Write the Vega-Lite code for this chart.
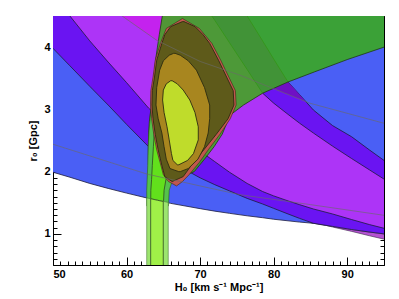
{
  "$schema": "https://vega.github.io/schema/vega-lite/v6.json",
  "width": 331,
  "height": 249,
  "autosize": {"type": "none"},
  "padding": {"left": 53, "top": 16, "right": 15, "bottom": 34},
  "background": "white",
  "config": {
    "view": {"stroke": null},
    "axis": {
      "grid": false,
      "domainColor": "black",
      "domainWidth": 1,
      "tickColor": "black",
      "tickWidth": 1,
      "labelFont": "Liberation Sans",
      "labelFontWeight": "bold",
      "labelFontSize": 11,
      "labelColor": "black",
      "titleFont": "Liberation Sans",
      "titleFontWeight": "bold",
      "titleFontSize": 11,
      "titleColor": "black"
    }
  },
  "datasets": {
    "blue": [
      {"x": 48, "y": 2.06, "y2": 5.5}, {"x": 50, "y": 1.99, "y2": 5.5}, {"x": 52.3, "y": 1.91, "y2": 5.5},
      {"x": 55, "y": 1.81, "y2": 5.5}, {"x": 57.5, "y": 1.73, "y2": 5.5}, {"x": 60, "y": 1.655, "y2": 5.5},
      {"x": 63, "y": 1.57, "y2": 5.5}, {"x": 66, "y": 1.49, "y2": 5.5}, {"x": 70, "y": 1.405, "y2": 5.5},
      {"x": 72, "y": 1.365, "y2": 5.5}, {"x": 74, "y": 1.33, "y2": 5.5}, {"x": 76.4, "y": 1.29, "y2": 5.5},
      {"x": 78.5, "y": 1.26, "y2": 5.5}, {"x": 80, "y": 1.235, "y2": 5.5}, {"x": 81.95, "y": 1.21, "y2": 5.5},
      {"x": 83.5, "y": 1.19, "y2": 5.5}, {"x": 85.4, "y": 1.17, "y2": 5.5}, {"x": 88, "y": 1.14, "y2": 5.5},
      {"x": 90.6, "y": 1.11, "y2": 5.5}, {"x": 93, "y": 1.09, "y2": 5.5}, {"x": 95, "y": 1.075, "y2": 5.5},
      {"x": 97, "y": 1.06, "y2": 5.5}
    ],
    "pink": [
      {"x": 85, "y": 1.19, "y2": 1.18}, {"x": 86.3, "y": 1.16, "y2": 1.15}, {"x": 88, "y": 1.11, "y2": 1.12},
      {"x": 90.6, "y": 1.04, "y2": 1.07}, {"x": 93, "y": 0.97, "y2": 1.03}, {"x": 95, "y": 0.915, "y2": 1.0},
      {"x": 97, "y": 0.86, "y2": 0.98}
    ],
    "indigo": [
      {"x": 48, "y": 4.22, "y2": 5.5}, {"x": 50, "y": 3.98, "y2": 5.5}, {"x": 52.3, "y": 3.7, "y2": 5.5},
      {"x": 55, "y": 3.37, "y2": 5.5}, {"x": 57.5, "y": 3.07, "y2": 5.5}, {"x": 60, "y": 2.76, "y2": 5.5},
      {"x": 63, "y": 2.4, "y2": 5.5}, {"x": 66, "y": 2.16, "y2": 5.5}, {"x": 70, "y": 1.9, "y2": 5.5},
      {"x": 72, "y": 1.79, "y2": 5.5}, {"x": 74, "y": 1.69, "y2": 4.95}, {"x": 76.4, "y": 1.57, "y2": 4.5},
      {"x": 78.5, "y": 1.48, "y2": 4.1}, {"x": 80, "y": 1.41, "y2": 3.81}, {"x": 81.95, "y": 1.32, "y2": 3.44},
      {"x": 83.5, "y": 1.25, "y2": 3.24}, {"x": 85.4, "y": 1.17, "y2": 2.99}, {"x": 88, "y": 1.12, "y2": 2.74},
      {"x": 90.6, "y": 1.07, "y2": 2.56}, {"x": 93, "y": 1.03, "y2": 2.35}, {"x": 95, "y": 1.0, "y2": 2.18},
      {"x": 97, "y": 0.98, "y2": 2.03}
    ],
    "magenta": [
      {"x": 50, "y": 4.85, "y2": 5.5}, {"x": 52.3, "y": 4.5, "y2": 5.5}, {"x": 55, "y": 4.1, "y2": 5.5},
      {"x": 57.5, "y": 3.76, "y2": 5.5}, {"x": 60, "y": 3.43, "y2": 5.5}, {"x": 63, "y": 3.02, "y2": 5.5},
      {"x": 66, "y": 2.7, "y2": 5.5}, {"x": 70, "y": 2.33, "y2": 4.77}, {"x": 72, "y": 2.16, "y2": 4.43},
      {"x": 74, "y": 1.99, "y2": 4.07}, {"x": 76.4, "y": 1.81, "y2": 3.64}, {"x": 78.5, "y": 1.68, "y2": 3.26},
      {"x": 80, "y": 1.61, "y2": 3.1}, {"x": 81.95, "y": 1.53, "y2": 2.92}, {"x": 83.5, "y": 1.47, "y2": 2.78},
      {"x": 85.4, "y": 1.4, "y2": 2.62}, {"x": 88, "y": 1.32, "y2": 2.41}, {"x": 90.6, "y": 1.23, "y2": 2.21},
      {"x": 93, "y": 1.15, "y2": 2.03}, {"x": 95, "y": 1.09, "y2": 1.88}, {"x": 97, "y": 1.04, "y2": 1.75}
    ],
    "tintTop": [
      {"x": 58, "y": 4.62, "y2": 4.8}, {"x": 59.4, "y": 4.5, "y2": 4.8}, {"x": 62, "y": 4.28, "y2": 4.8},
      {"x": 64.1, "y": 4.11, "y2": 4.8}, {"x": 66, "y": 4.0, "y2": 4.8}
    ],
    "tintRight": [
      {"x": 80, "y": 3.33, "y2": 3.34}, {"x": 81.95, "y": 3.24, "y2": 3.44}, {"x": 83.5, "y": 3.17, "y2": 3.24},
      {"x": 84.3, "y": 3.13, "y2": 3.13}
    ],
    "green": [
      {"y": 1.85, "x": 66.2, "x2": 66.2}, {"y": 2.0, "x": 63.0, "x2": 69.2}, {"y": 2.2, "x": 62.95, "x2": 70.6},
      {"y": 2.4, "x": 62.95, "x2": 71.9}, {"y": 2.6, "x": 63.0, "x2": 73.0}, {"y": 2.8, "x": 63.1, "x2": 73.7},
      {"y": 2.91, "x": 63.2, "x2": 74.1}, {"y": 3.07, "x": 63.4, "x2": 75.9}, {"y": 3.26, "x": 63.5, "x2": 78.5},
      {"y": 3.44, "x": 63.65, "x2": 81.95}, {"y": 3.6, "x": 63.8, "x2": 85.5}, {"y": 3.8, "x": 63.95, "x2": 90.0},
      {"y": 4.0, "x": 64.2, "x2": 95.0}, {"y": 4.2, "x": 64.45, "x2": 97.5}, {"y": 4.5, "x": 64.86, "x2": 97.5},
      {"y": 4.7, "x": 65.1, "x2": 97.5}
    ],
    "bandOuterUp": [
      {"y": 1.45, "x": 62.74, "x2": 65.7}, {"y": 1.7, "x": 62.74, "x2": 65.8}, {"y": 1.87, "x": 62.8, "x2": 66.27},
      {"y": 2.1, "x": 62.88, "x2": 67.0}, {"y": 2.4, "x": 62.95, "x2": 67.8}, {"y": 2.65, "x": 63.05, "x2": 68.0},
      {"y": 2.9, "x": 63.25, "x2": 63.25}
    ],
    "bandInnerUp": [
      {"y": 1.45, "x": 63.28, "x2": 65.0}, {"y": 1.7, "x": 63.3, "x2": 65.1}, {"y": 1.87, "x": 63.4, "x2": 65.35},
      {"y": 2.1, "x": 63.5, "x2": 65.8}, {"y": 2.4, "x": 63.65, "x2": 66.3}, {"y": 2.7, "x": 63.8, "x2": 66.8},
      {"y": 2.95, "x": 64.0, "x2": 64.0}
    ],
    "bandOuterLow": [
      {"x": 62.74, "y": 0.3, "y2": 1.578}, {"x": 63.5, "y": 0.3, "y2": 1.56}, {"x": 64.5, "y": 0.3, "y2": 1.535},
      {"x": 65.67, "y": 0.3, "y2": 1.505}
    ],
    "bandInnerLow": [
      {"x": 63.28, "y": 0.3, "y2": 1.565}, {"x": 64.2, "y": 0.3, "y2": 1.54}, {"x": 64.99, "y": 0.3, "y2": 1.52}
    ],
    "red": [
      {"y": 1.77, "x": 66.8, "x2": 66.8}, {"y": 1.84, "x": 65.7, "x2": 67.6}, {"y": 1.95, "x": 65.0, "x2": 68.5},
      {"y": 2.15, "x": 64.55, "x2": 69.9}, {"y": 2.35, "x": 64.1, "x2": 71.1}, {"y": 2.6, "x": 63.7, "x2": 72.7},
      {"y": 2.85, "x": 63.4, "x2": 74.1}, {"y": 3.07, "x": 63.25, "x2": 74.9}, {"y": 3.3, "x": 63.3, "x2": 74.8},
      {"y": 3.52, "x": 63.6, "x2": 73.9}, {"y": 3.79, "x": 63.9, "x2": 72.8}, {"y": 4.06, "x": 64.6, "x2": 71.6},
      {"y": 4.3, "x": 65.4, "x2": 69.9}, {"y": 4.46, "x": 67.6, "x2": 67.6}
    ],
    "olive": [
      {"y": 1.84, "x": 66.2, "x2": 66.2}, {"y": 1.92, "x": 65.2, "x2": 67.7}, {"y": 2.1, "x": 64.8, "x2": 68.8},
      {"y": 2.35, "x": 64.3, "x2": 70.5}, {"y": 2.6, "x": 63.9, "x2": 72.2}, {"y": 2.85, "x": 63.6, "x2": 73.8},
      {"y": 3.07, "x": 63.45, "x2": 74.6}, {"y": 3.3, "x": 63.5, "x2": 74.5}, {"y": 3.52, "x": 63.8, "x2": 73.6},
      {"y": 3.79, "x": 64.1, "x2": 72.5}, {"y": 4.06, "x": 64.8, "x2": 71.3}, {"y": 4.2, "x": 65.2, "x2": 70.4},
      {"y": 4.33, "x": 66.0, "x2": 69.3}, {"y": 4.41, "x": 67.6, "x2": 67.8}
    ],
    "gold": [
      {"y": 2.0, "x": 67.1, "x2": 67.3}, {"y": 2.05, "x": 65.9, "x2": 68.4}, {"y": 2.2, "x": 65.4, "x2": 69.7},
      {"y": 2.4, "x": 65.1, "x2": 70.6}, {"y": 2.62, "x": 64.8, "x2": 71.1}, {"y": 2.85, "x": 64.3, "x2": 71.3},
      {"y": 3.07, "x": 64.0, "x2": 71.3}, {"y": 3.35, "x": 64.1, "x2": 70.6}, {"y": 3.63, "x": 64.5, "x2": 69.5},
      {"y": 3.78, "x": 65.0, "x2": 68.4}, {"y": 3.87, "x": 65.8, "x2": 67.3}, {"y": 3.9, "x": 66.4, "x2": 66.6}
    ],
    "yellow": [
      {"y": 2.11, "x": 66.9, "x2": 67.1}, {"y": 2.18, "x": 66.3, "x2": 68.3}, {"y": 2.29, "x": 66.1, "x2": 69.1},
      {"y": 2.51, "x": 65.8, "x2": 69.75}, {"y": 2.72, "x": 65.5, "x2": 69.75}, {"y": 2.95, "x": 65.1, "x2": 69.3},
      {"y": 3.15, "x": 64.9, "x2": 68.6}, {"y": 3.31, "x": 65.0, "x2": 67.7}, {"y": 3.41, "x": 65.4, "x2": 66.9},
      {"y": 3.46, "x": 66.0, "x2": 66.2}
    ],
    "grey": [
      {"line": "upper", "x": 58, "y": 4.62}, {"line": "upper", "x": 59.4, "y": 4.5}, {"line": "upper", "x": 64.1, "y": 4.11},
      {"line": "upper", "x": 70, "y": 3.77}, {"line": "upper", "x": 75.4, "y": 3.55}, {"line": "upper", "x": 84.9, "y": 3.1},
      {"line": "upper", "x": 94.9, "y": 2.78}, {"line": "upper", "x": 97, "y": 2.72},
      {"line": "lower", "x": 48, "y": 2.52}, {"line": "lower", "x": 50, "y": 2.44}, {"line": "lower", "x": 62.8, "y": 1.96},
      {"line": "lower", "x": 70, "y": 1.77}, {"line": "lower", "x": 75.4, "y": 1.63}, {"line": "lower", "x": 85, "y": 1.47},
      {"line": "lower", "x": 94.9, "y": 1.3}, {"line": "lower", "x": 97, "y": 1.27}
    ]
  },
  "encoding": {
    "x": {"field": "x", "type": "quantitative", "scale": {"domain": [50, 95], "nice": false, "zero": false}, "axis": null},
    "y": {"field": "y", "type": "quantitative", "scale": {"domain": [0.5, 4.5], "nice": false, "zero": false}, "axis": null}
  },
  "resolve": {"axis": {"x": "independent", "y": "independent"}},
  "layer": [
    {
      "data": {"name": "blue"},
      "mark": {"type": "area", "clip": true, "fill": "#4a5ff5", "stroke": "#1c1c3c", "strokeWidth": 0.8},
      "encoding": {
        "x": {"field": "x", "type": "quantitative", "scale": {"domain": [50, 95], "nice": false, "zero": false},
          "axis": {"orient": "bottom", "title": "H₀ [km s⁻¹ Mpc⁻¹]", "titlePadding": 2,
            "values": [50,51,52,53,54,55,56,57,58,59,60,61,62,63,64,65,66,67,68,69,70,71,72,73,74,75,76,77,78,79,80,81,82,83,84,85,86,87,88,89,90,91,92,93,94,95],
            "labelExpr": "datum.value % 10 === 0 ? datum.label : ''",
            "tickSize": {"condition": {"test": "datum.value % 10 === 0", "value": -8}, "value": -4},
            "labelPadding": 11}},
        "y": {"field": "y", "type": "quantitative", "scale": {"domain": [0.5, 4.5], "nice": false, "zero": false},
          "axis": {"orient": "left", "title": "r₀ [Gpc]", "titlePadding": 5,
            "values": [0.5,0.6,0.7,0.8,0.9,1,1.1,1.2,1.3,1.4,1.5,1.6,1.7,1.8,1.9,2,2.1,2.2,2.3,2.4,2.5,2.6,2.7,2.8,2.9,3,3.1,3.2,3.3,3.4,3.5,3.6,3.7,3.8,3.9,4,4.1,4.2,4.3,4.4,4.5],
            "labelExpr": "abs(datum.value - round(datum.value)) < 0.001 ? '' + round(datum.value) : ''",
            "tickSize": {"condition": {"test": "abs(datum.value - round(datum.value)) < 0.001", "value": -8}, "value": -4},
            "labelPadding": 11}},
        "y2": {"field": "y2"}
      }
    },
    {
      "data": {"name": "pink"},
      "mark": {"type": "area", "clip": true, "fill": "#b552d2", "stroke": "#3a2a4a", "strokeWidth": 0.6},
      "encoding": {"y2": {"field": "y2"}}
    },
    {
      "data": {"name": "indigo"},
      "mark": {"type": "area", "clip": true, "fill": "#6a14f2", "stroke": "#1c1c3c", "strokeWidth": 0.8},
      "encoding": {"y2": {"field": "y2"}}
    },
    {
      "data": {"name": "magenta"},
      "mark": {"type": "area", "clip": true, "fill": "#ad34f7", "stroke": "#1c1c3c", "strokeWidth": 0.8},
      "encoding": {"y2": {"field": "y2"}}
    },
    {
      "data": {"name": "tintTop"},
      "mark": {"type": "area", "clip": true, "fill": "#c422ee"},
      "encoding": {"y2": {"field": "y2"}}
    },
    {
      "data": {"name": "tintRight"},
      "mark": {"type": "area", "clip": true, "fill": "#7010c4"},
      "encoding": {"y2": {"field": "y2"}}
    },
    {
      "data": {"name": "green"},
      "mark": {"type": "area", "orient": "horizontal", "clip": true, "fill": "#38b00e", "fillOpacity": 0.82, "stroke": "#1f3a10", "strokeWidth": 0.8},
      "encoding": {"x2": {"field": "x2"}}
    },
    {
      "data": {"name": "bandOuterUp"},
      "mark": {"type": "area", "orient": "horizontal", "clip": true, "fill": "#55c24a", "stroke": "#2d5a20", "strokeWidth": 0.6},
      "encoding": {"x2": {"field": "x2"}}
    },
    {
      "data": {"name": "bandInnerUp"},
      "mark": {"type": "area", "orient": "horizontal", "clip": true, "fill": "#62e01c", "stroke": "#2d4a20", "strokeWidth": 0.8},
      "encoding": {"x2": {"field": "x2"}}
    },
    {
      "data": {"name": "bandOuterLow"},
      "mark": {"type": "area", "clip": true, "fill": "#9ce46e", "stroke": "#4a7a3a", "strokeWidth": 0.6},
      "encoding": {"y2": {"field": "y2"}}
    },
    {
      "data": {"name": "bandInnerLow"},
      "mark": {"type": "area", "clip": true, "fill": "#a0f048", "stroke": "#2d4a20", "strokeWidth": 0.8},
      "encoding": {"y2": {"field": "y2"}}
    },
    {
      "data": {"name": "red"},
      "mark": {"type": "area", "orient": "horizontal", "clip": true, "fill": "#c0564e", "stroke": "#3a2a10", "strokeWidth": 0.6},
      "encoding": {"x2": {"field": "x2"}}
    },
    {
      "data": {"name": "olive"},
      "mark": {"type": "area", "orient": "horizontal", "clip": true, "fill": "#5e5a1a", "stroke": "#2b2b10", "strokeWidth": 0.9},
      "encoding": {"x2": {"field": "x2"}}
    },
    {
      "data": {"name": "gold"},
      "mark": {"type": "area", "orient": "horizontal", "clip": true, "fill": "#a8861f", "stroke": "#2b2b10", "strokeWidth": 0.9},
      "encoding": {"x2": {"field": "x2"}}
    },
    {
      "data": {"name": "yellow"},
      "mark": {"type": "area", "orient": "horizontal", "clip": true, "fill": "#bfdc2b", "stroke": "#2b2b10", "strokeWidth": 0.9},
      "encoding": {"x2": {"field": "x2"}}
    },
    {
      "data": {"name": "grey"},
      "mark": {"type": "line", "clip": true, "stroke": "#6a6a6a", "strokeWidth": 0.8, "opacity": 0.8},
      "encoding": {
        "x": {"field": "x", "type": "quantitative", "scale": {"domain": [50, 95], "nice": false, "zero": false},
          "axis": {"orient": "top", "title": null, "labels": false,
            "values": [50,51,52,53,54,55,56,57,58,59,60,61,62,63,64,65,66,67,68,69,70,71,72,73,74,75,76,77,78,79,80,81,82,83,84,85,86,87,88,89,90,91,92,93,94,95],
            "tickSize": {"condition": {"test": "datum.value % 10 === 0", "value": -8}, "value": -4}}},
        "y": {"field": "y", "type": "quantitative", "scale": {"domain": [0.5, 4.5], "nice": false, "zero": false},
          "axis": {"orient": "right", "title": null, "labels": false,
            "values": [0.5,0.6,0.7,0.8,0.9,1,1.1,1.2,1.3,1.4,1.5,1.6,1.7,1.8,1.9,2,2.1,2.2,2.3,2.4,2.5,2.6,2.7,2.8,2.9,3,3.1,3.2,3.3,3.4,3.5,3.6,3.7,3.8,3.9,4,4.1,4.2,4.3,4.4,4.5],
            "tickSize": {"condition": {"test": "abs(datum.value - round(datum.value)) < 0.001", "value": -8}, "value": -4}}},
        "detail": {"field": "line"}
      }
    }
  ]
}
